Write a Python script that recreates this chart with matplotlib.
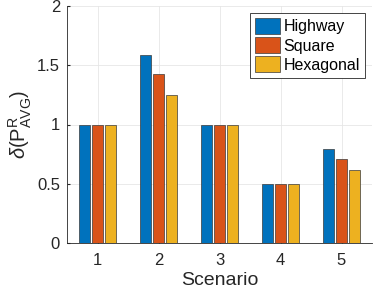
import numpy as np
import matplotlib
matplotlib.use('Agg')
import matplotlib.pyplot as plt

plt.rcParams['font.family'] = ['Liberation Sans', 'DejaVu Sans']
plt.rcParams['mathtext.fontset'] = 'custom'
plt.rcParams['mathtext.rm'] = 'Liberation Sans'
plt.rcParams['mathtext.it'] = 'Liberation Sans:italic'

# Data
scenarios = [1, 2, 3, 4, 5]
highway = [1.0, 1.59, 1.0, 0.5, 0.79]
square = [1.0, 1.43, 1.0, 0.5, 0.71]
hexagonal = [1.0, 1.245, 1.0, 0.5, 0.62]
labels = ['Highway', 'Square', 'Hexagonal']
colors = ['#0072BD', '#D95319', '#EDB120']

fig = plt.figure(figsize=(3.74, 2.92), dpi=100)
ax = fig.add_axes([67 / 374, 1 - 243 / 292, 305 / 374, 237 / 292])

x = np.array(scenarios)
w = 0.18
for i, (vals, lab, c) in enumerate(zip([highway, square, hexagonal], labels, colors)):
    ax.bar(x + (i - 1) * 0.22, vals, width=w, color=c, edgecolor='#3a3a3a',
           linewidth=0.5, label=lab, zorder=3)

ax.set_xlim(0.5, 5.5)
ax.set_ylim(0, 2)
ax.set_xticks(scenarios)
ax.set_yticks([0, 0.5, 1, 1.5, 2])
ax.set_yticklabels(['0', '0.5', '1', '1.5', '2'])
ax.grid(True, color='#e6e6e6', linewidth=0.6, zorder=0)
ax.tick_params(direction='in', length=2, labelsize=12, colors='#262626')
ax.tick_params(axis='x', pad=7)
ax.tick_params(axis='y', pad=5)
for s in ['top', 'right']:
    ax.spines[s].set_visible(False)
for s in ['left', 'bottom']:
    ax.spines[s].set_color('#262626')
    ax.spines[s].set_linewidth(0.6)

ax.set_xlabel('Scenario', fontsize=14, color='#262626', labelpad=3)
ax.set_ylabel(r'$\delta(\mathrm{P}^{\mathrm{R}}_{\mathrm{AVG}})$', fontsize=14.5,
              color='#262626', labelpad=2)

leg = ax.legend(loc='upper right', fontsize=11.5, fancybox=False, framealpha=1,
                edgecolor='#262626', handlelength=1.6, handleheight=1.15,
                handletextpad=0.2, borderpad=0.3, labelspacing=0.18,
                borderaxespad=0.45)
leg.get_frame().set_linewidth(0.6)

fig.savefig('out.png', dpi=100)
